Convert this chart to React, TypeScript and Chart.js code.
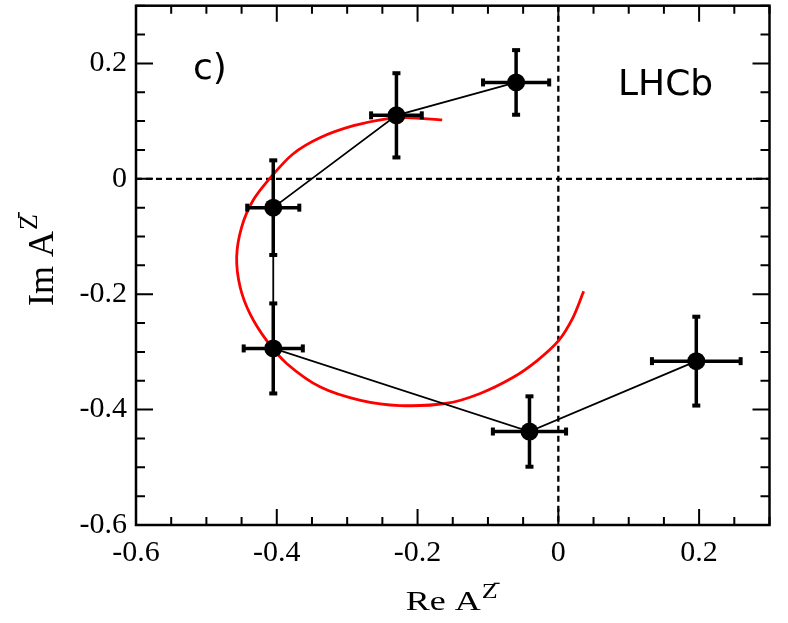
import { useEffect, useRef } from "react"
import { Chart, registerables } from "chart.js"
import type { Plugin } from "chart.js"

Chart.register(...registerables)

// measured points, in plotted order
const pointRe = [-0.06, -0.23, -0.405, -0.405, -0.041, 0.196]
const pointIm = [0.167, 0.11, -0.05, -0.294, -0.438, -0.316]
const errRe = [0.047, 0.036, 0.037, 0.042, 0.052, 0.063]
const errIm = [0.056, 0.073, 0.082, 0.078, 0.061, 0.077]

// model curve (red)
const curveRe = [-0.165, -0.215, -0.244, -0.291, -0.338, -0.377, -0.409, -0.434, -0.45, -0.457, -0.452, -0.438, -0.414, -0.386, -0.338, -0.281, -0.225, -0.158, -0.111, -0.064, -0.03, 0.0, 0.021, 0.036]
const curveIm = [0.102, 0.106, 0.104, 0.092, 0.0715, 0.043, 0.002, -0.038, -0.084, -0.136, -0.188, -0.234, -0.281, -0.32, -0.361, -0.384, -0.393, -0.389, -0.372, -0.344, -0.315, -0.281, -0.24, -0.195]

const xTicks = [-0.6, -0.4, -0.2, 0, 0.2]
const yTicks = [-0.6, -0.4, -0.2, 0, 0.2]
const minorStep = 0.05

const SERIF = "'Liberation Serif', 'Times New Roman', serif"
const SANS = "'DejaVu Sans', sans-serif"

const errorBars: Plugin = {
  id: "errorBars",
  afterDatasetsDraw(chart) {
    const { ctx } = chart
    const xs = chart.scales.x
    const ys = chart.scales.y
    ctx.save()
    ctx.strokeStyle = "#000"
    ctx.fillStyle = "#000"
    ctx.lineWidth = 3.5
    pointRe.forEach((re, i) => {
      const im = pointIm[i]
      const x = xs.getPixelForValue(re)
      const y = ys.getPixelForValue(im)
      const x1 = xs.getPixelForValue(re - errRe[i])
      const x2 = xs.getPixelForValue(re + errRe[i])
      const y1 = ys.getPixelForValue(im - errIm[i])
      const y2 = ys.getPixelForValue(im + errIm[i])
      ctx.beginPath()
      ctx.moveTo(x1, y)
      ctx.lineTo(x2, y)
      ctx.moveTo(x, y1)
      ctx.lineTo(x, y2)
      ctx.stroke()
      ctx.fillRect(x1 - 2, y - 4, 4, 8)
      ctx.fillRect(x2 - 2, y - 4, 4, 8)
      ctx.fillRect(x - 4, y1 - 2, 8, 4)
      ctx.fillRect(x - 4, y2 - 2, 8, 4)
    })
    ctx.restore()
  },
}

const zeroLines: Plugin = {
  id: "zeroLines",
  beforeDatasetsDraw(chart) {
    const { ctx, chartArea } = chart
    const x0 = chart.scales.x.getPixelForValue(0)
    const y0 = chart.scales.y.getPixelForValue(0)
    ctx.save()
    ctx.strokeStyle = "#000"
    ctx.lineWidth = 2.3
    ctx.setLineDash([6, 4])
    ctx.beginPath()
    ctx.moveTo(x0, chartArea.top)
    ctx.lineTo(x0, chartArea.bottom)
    ctx.moveTo(chartArea.left, y0)
    ctx.lineTo(chartArea.right, y0)
    ctx.stroke()
    ctx.restore()
  },
}

const frame: Plugin = {
  id: "frame",
  afterDraw(chart) {
    const { ctx, chartArea } = chart
    const { left, right, top, bottom } = chartArea
    const xs = chart.scales.x
    const ys = chart.scales.y
    ctx.save()
    ctx.strokeStyle = "#000"
    ctx.lineWidth = 2.5
    ctx.strokeRect(left, top, right - left, bottom - top)
    ctx.lineWidth = 2
    ctx.beginPath()
    for (let v = xs.min; v <= xs.max + 1e-9; v += minorStep) {
      const major = xTicks.some((t) => Math.abs(t - v) < 1e-6)
      const len = major ? 16 : 8
      const px = xs.getPixelForValue(v)
      ctx.moveTo(px, bottom)
      ctx.lineTo(px, bottom - len)
      ctx.moveTo(px, top)
      ctx.lineTo(px, top + len)
    }
    for (let v = ys.min; v <= ys.max + 1e-9; v += minorStep) {
      const major = yTicks.some((t) => Math.abs(t - v) < 1e-6)
      const len = major ? 17 : 9
      const py = ys.getPixelForValue(v)
      ctx.moveTo(left, py)
      ctx.lineTo(left + len, py)
      ctx.moveTo(right, py)
      ctx.lineTo(right - len, py)
    }
    ctx.stroke()

    // axis titles with superscripts
    ctx.fillStyle = "#000"
    ctx.textAlign = "left"
    ctx.textBaseline = "alphabetic"

    const drawTitle = (main: string) => {
      ctx.font = `36px ${SERIF}`
      const w = ctx.measureText(main).width
      ctx.fillText(main, 0, 0)
      ctx.font = `26px ${SERIF}`
      const zx = w + 1
      const zw = ctx.measureText("Z").width
      ctx.fillText("Z", zx, -16)
      ctx.fillRect(zx + zw * 0.75, -35, 6, 1.6)
    }

    ctx.font = `36px ${SERIF}`
    const wRe = ctx.measureText("Re A").width + 19
    ctx.save()
    ctx.translate((left + right) / 2 - wRe / 2, 610)
    ctx.scale(1, 0.78)
    drawTitle("Re A")
    ctx.restore()

    ctx.save()
    ctx.translate(53, 306)
    ctx.rotate(-Math.PI / 2)
    drawTitle("Im A")
    ctx.restore()

    // panel labels
    ctx.font = `36px ${SANS}`
    ctx.fillText("c)", left + 57, top + 73)
    ctx.fillText("LHCb", left + 482, top + 89)
    ctx.restore()
  },
}

export default function App() {
  const canvasRef = useRef<HTMLCanvasElement>(null)

  useEffect(() => {
    if (!canvasRef.current) return
    const tickFont = { family: SERIF, size: 30 }
    const chart = new Chart(canvasRef.current, {
      type: "scatter",
      data: {
        datasets: [
          {
            label: "Data",
            data: pointRe.map((re, i) => ({ x: re, y: pointIm[i] })),
            showLine: true,
            borderColor: "#000",
            borderWidth: 1.8,
            pointRadius: 9,
            pointBackgroundColor: "#000",
            pointBorderColor: "#000",
            pointBorderWidth: 0,
          },
          {
            label: "Model",
            data: curveRe.map((re, i) => ({ x: re, y: curveIm[i] })),
            showLine: true,
            borderColor: "#ff0000",
            borderWidth: 2.8,
            pointRadius: 0,
            tension: 0.3,
          },
        ],
      },
      options: {
        responsive: true,
        maintainAspectRatio: false,
        animation: false,
        layout: { autoPadding: false, padding: { top: 5.7, right: 18.5, left: 0, bottom: 0 } },
        plugins: {
          legend: { display: false },
          tooltip: { enabled: false },
        },
        scales: {
          x: {
            type: "linear",
            min: -0.6,
            max: 0.3,
            afterBuildTicks: (s) => {
              s.ticks = xTicks.map((v) => ({ value: v }))
            },
            afterFit: (s) => {
              s.height = 98
              s.paddingLeft = 0
              s.paddingRight = 0
            },
            ticks: {
              font: tickFont,
              color: "#000",
              padding: 10,
              maxRotation: 0,
              autoSkip: false,
              callback: (v) => String(Number(v)),
            },
            grid: { display: false, drawTicks: false },
            border: { display: false },
          },
          y: {
            type: "linear",
            min: -0.6,
            max: 0.3,
            afterBuildTicks: (s) => {
              s.ticks = yTicks.map((v) => ({ value: v }))
            },
            afterFit: (s) => {
              s.width = 136
              s.paddingTop = 0
              s.paddingBottom = 0
            },
            ticks: {
              font: tickFont,
              color: "#000",
              padding: 9,
              autoSkip: false,
              callback: (v) => String(Number(v)),
            },
            grid: { display: false, drawTicks: false },
            border: { display: false },
          },
        },
      },
      plugins: [zeroLines, errorBars, frame],
    })

    return () => {
      chart.destroy()
    }
  }, [])

  return (
    <div style={{ position: "fixed", left: 0, top: 0, width: 788, height: 623, background: "#fff" }}>
      <canvas ref={canvasRef} />
    </div>
  )
}
